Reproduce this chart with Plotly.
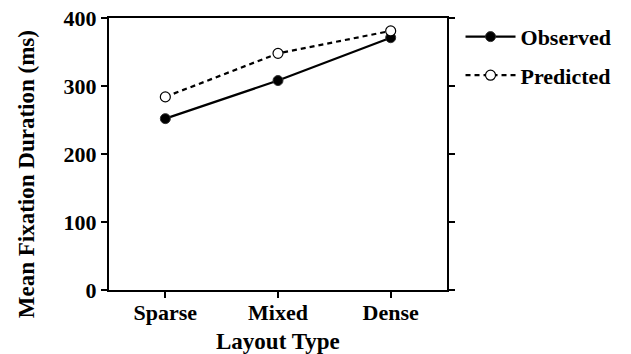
import plotly.graph_objects as go

categories = ["Sparse", "Mixed", "Dense"]
observed = [252, 308, 371]
predicted = [284, 348, 381]
y_ticks = [0, 100, 200, 300, 400]

FONT = "Liberation Serif"

fig = go.Figure()
fig.add_trace(go.Scatter(
    x=[0, 1, 2], y=observed, name="Observed", mode="lines+markers",
    line=dict(color="black", width=2.2),
    marker=dict(symbol="circle", size=10, color="black", line=dict(color="#333", width=1)),
    cliponaxis=False, legendgroup="a",
))
fig.add_trace(go.Scatter(
    x=[0, 1, 2], y=predicted, name="Predicted", mode="lines+markers",
    line=dict(color="black", width=2.2, dash="5px,4px"),
    marker=dict(symbol="circle", size=10, color="white", line=dict(color="black", width=1.2)),
    cliponaxis=False, legendgroup="b",
))

fig.update_layout(
    width=631, height=354,
    margin=dict(l=109, r=184, t=18, b=64, autoexpand=False),
    plot_bgcolor="white", paper_bgcolor="white",
    font=dict(family=FONT, size=22, color="black", weight="bold"),
    showlegend=True,
    legend=dict(x=1.04, y=1.008, xanchor="left", yanchor="top",
                font=dict(family=FONT, size=22, color="black", weight="bold"),
                tracegroupgap=7, itemwidth=50, bgcolor="rgba(0,0,0,0)"),
    xaxis=dict(
        range=[-0.5, 2.5], tickmode="array", tickvals=[0, 1, 2], ticktext=categories,
        showgrid=False, zeroline=False, showline=True, linecolor="black", linewidth=2,
        mirror=True, ticks="outside", ticklen=6, tickwidth=1.5, tickcolor="black",
        ticklabelstandoff=-4,
    ),
    yaxis=dict(
        range=[0, 400], tickmode="array", tickvals=y_ticks,
        showgrid=False, zeroline=False, showline=True, linecolor="black", linewidth=2,
        mirror="ticks", ticks="outside", ticklen=6, tickwidth=2, tickcolor="black",
    ),
    annotations=[
        dict(text="Layout Type", xref="paper", yref="paper", x=0.5, y=-0.188,
             xanchor="center", yanchor="middle", showarrow=False,
             font=dict(family=FONT, size=23, weight="bold")),
        dict(text="Mean Fixation Duration (ms)", xref="paper", yref="paper",
             x=-0.242, y=0.4265, xanchor="center", yanchor="middle", textangle=-90,
             showarrow=False, font=dict(family=FONT, size=23, weight="bold")),
    ],
)

fig.write_html("out.html")
